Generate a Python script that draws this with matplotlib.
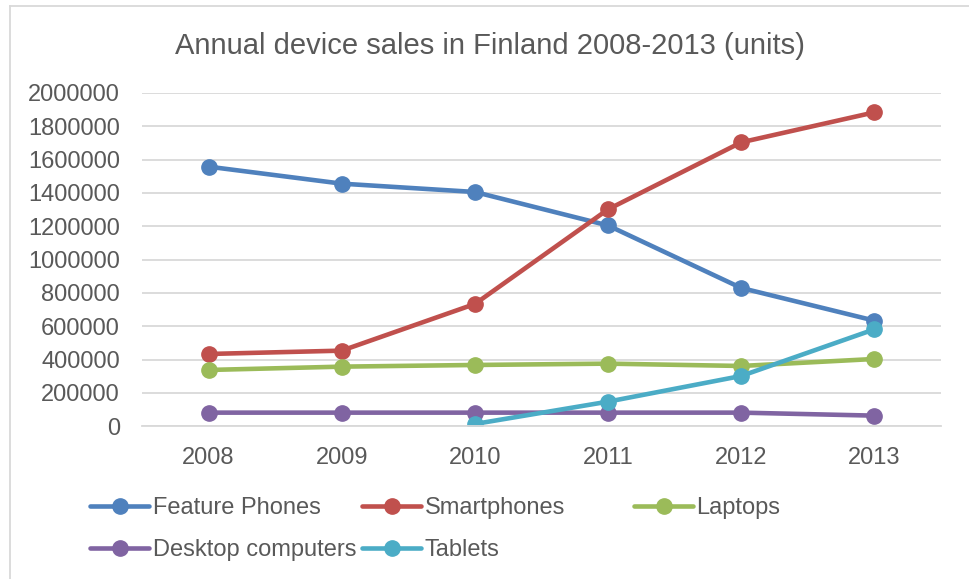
import numpy as np
import matplotlib.pyplot as plt
from matplotlib.lines import Line2D

plt.rcParams['font.family'] = ['Liberation Sans', 'DejaVu Sans']

years = ['2008', '2009', '2010', '2011', '2012', '2013']
feature_phones = [1558000, 1456000, 1406000, 1205000, 830000, 634000]
smartphones = [434000, 454000, 734000, 1302000, 1704000, 1884000]
laptops = [338000, 358000, 368000, 376000, 362000, 404000]
desktops = [82000, 82000, 82000, 82000, 82000, 64000]
tablets = [np.nan, np.nan, 14000, 148000, 302000, 582000]

series = [
    ('Feature Phones', feature_phones, '#4F81BD'),
    ('Smartphones', smartphones, '#C0504D'),
    ('Laptops', laptops, '#9BBB59'),
    ('Desktop computers', desktops, '#8064A2'),
    ('Tablets', tablets, '#4BACC6'),
]

W, H = 969, 579
fig = plt.figure(figsize=(W / 100, H / 100), dpi=100)
ax = fig.add_axes([142 / W, 1 - 426.3 / H, (941 - 142) / W, (426.3 - 93) / H])

text_col = '#595959'
grid_col = '#D9D9D9'

x = np.arange(len(years))
handles = []
for name, vals, col in series:
    h, = ax.plot(x, vals, color=col, lw=3.3, marker='o', ms=11,
                 solid_capstyle='round', label=name)
    handles.append(h)

ax.set_xlim(-0.5, len(years) - 0.5)
ax.set_ylim(0, 2000000)
ax.set_yticks(np.arange(0, 2000001, 200000))
ax.set_xticks(x)
ax.set_xticklabels(years)
ax.yaxis.set_major_formatter(plt.FuncFormatter(lambda v, p: f'{int(v)}'))
ax.tick_params(axis='both', length=0, labelsize=17, labelcolor=text_col)
ax.tick_params(axis='y', pad=16)
ax.tick_params(axis='x', pad=15)
ax.grid(axis='y', color=grid_col, lw=1.3)
ax.set_axisbelow(True)
for side in ['top', 'right', 'left']:
    ax.spines[side].set_visible(False)
ax.spines['bottom'].set_color(grid_col)
ax.spines['bottom'].set_linewidth(1.3)

fig.text(490 / W, 1 - 46 / H, 'Annual device sales in Finland 2008-2013 (units)',
         ha='center', va='center', fontsize=21, color=text_col)

# legend entries laid out in a fixed grid
legend_pos = [(90, 508), (362, 508), (634, 508), (90, 550), (362, 550)]
for h, (px, py) in zip(handles, legend_pos):
    fig.legend(handles=[h], labels=[h.get_label()], loc='center left',
               bbox_to_anchor=(px / W, 1 - py / H), frameon=False,
               borderpad=0, borderaxespad=0, handlelength=2.5,
               handletextpad=0.15, fontsize=17, labelcolor=text_col)

# chart area border (top and left edges)
fig.add_artist(Line2D([10 / W, 1], [1 - 6 / H, 1 - 6 / H], color=grid_col, lw=1.3))
fig.add_artist(Line2D([10 / W, 10 / W], [0, 1 - 6 / H], color=grid_col, lw=1.3))

fig.savefig('out.png', dpi=100)
